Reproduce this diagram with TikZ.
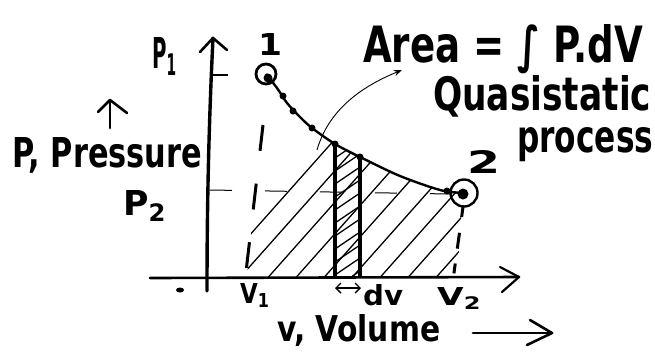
\documentclass[tikz,border=0pt]{standalone}
\usepackage{fontspec}
\setmainfont{DejaVu Sans}
\usepackage{graphicx}
\usetikzlibrary{arrows.meta}
\newcommand{\fitw}[3]{\resizebox{#1pt}{#2pt}{\bfseries #3}}
\begin{document}
\begin{tikzpicture}[x=1pt,y=-1pt,
  lbl/.style={inner sep=0pt, anchor=base west},
  axisline/.style={line width=3.4pt, line cap=round},
  headline/.style={line width=2.6pt, line cap=round, line join=round},
  curveline/.style={line width=2.4pt},
  hatch/.style={line width=1.3pt},
  stripline/.style={line width=3.6pt},
  ptdot/.style={fill=black},
  vguide/.style={line width=3pt, dash pattern=on 26pt off 33pt},
  vguidetwo/.style={line width=3pt, dash pattern=on 10pt off 16pt on 16pt off 15pt},
  hguide/.style={line width=1pt, dash pattern=on 22pt off 33pt},
  thinarrow/.style={line width=0.9pt, -{Stealth[length=8pt,width=6pt]}}
]
\useasboundingbox (0,0) rectangle (655,354);

% hatching under the curve
\begin{scope}
  \clip (247,277) -- plot[smooth] coordinates {(266,74) (277,88) (287,103) (300,117) (312,128) (335,144) (360,157) (400,176) (440,190) (463,193)} -- (457,277) -- cycle;
  \foreach \x in {192,220,...,480} \draw[hatch] (\x,300) -- ++(200,-225);
\end{scope}
% denser hatching in the strip
\begin{scope}
  \clip (335,277) -- (335,144) -- (360,157) -- (360,277) -- cycle;
  \foreach \y in {158,171,...,300} \draw[hatch] (335,\y) -- (360,\y-17);
\end{scope}

% guide lines
\draw[vguide] (263,125) -- (246,272);
\draw[vguidetwo] (463,207) -- (453,280);
\draw[hguide] (210,190) -- (450,194);
\draw[line width=1.2pt] (213,75) -- (228,75);

% axes
\coordinate (yfoot) at (207,291);
\coordinate (ytip) at (213,38);
\coordinate (xfoot) at (150,278);
\coordinate (xtip) at (519,277);
\draw[axisline] (yfoot) .. controls (207,200) and (209,120) .. (ytip);
\draw[headline] (200,52) -- (ytip) -- (227,50);
\draw[axisline, line width=2.6pt] (xfoot) -- (xtip);
\draw[headline, line width=2.2pt] (500,267) -- (xtip) -- (502,292);
\fill (180,290) ellipse (4pt and 2.5pt);

% process curve
\draw[curveline] plot[smooth] coordinates {(266,74) (277,88) (287,103) (300,117) (312,128) (335,144) (360,157) (400,176) (440,190) (463,193)};
\foreach \p in {(283,96),(293,111),(312,128),(335,144),(360,157),(447,191)}
  \fill[ptdot] \p circle (3.5pt);

% state points
\node[circle, draw, line width=2.8pt, minimum size=20pt, inner sep=0pt] (s1) at (266,74) {};
\fill (268,78) circle (4.5pt);
\node[circle, draw, line width=2.4pt, minimum size=27pt, inner sep=0pt] (s2) at (464,193) {};
\fill (463,194) circle (5.5pt);

% strip dV
\draw[stripline] (335,144) -- (335,277);
\draw[stripline] (360,157) -- (360,277);
\coordinate (dvl) at (335,288);
\coordinate (dvr) at (361,288);
\draw[line width=1.4pt, {Straight Barb[length=5pt,width=10pt]}-{Straight Barb[length=5pt,width=10pt]}] (dvl) -- (dvr);

% labels
\node[lbl] (lone) at (258,55) {\fitw{24}{22}{1}};
\node[lbl] (ltwo) at (467,173) {\fitw{33}{23}{2}};
\node[lbl] (pone) at (152,68) {\fitw{25}{31}{P\textsubscript{1}}};
\node[lbl] (ptwo) at (123,215) {\fitw{44}{25}{P\textsubscript{2}}};
\node[lbl] (press) at (12,167) {\fitw{190}{30}{P, Pressure}};
\coordinate (upfoot) at (110,128);
\coordinate (uptip) at (110,100);
\draw[headline, line width=2.8pt] (upfoot) -- (uptip);
\draw[headline] (98,112) -- (uptip) -- (127,113);
\node[lbl] (vone) at (240,303) {\fitw{30}{20}{V\textsubscript{1}}};
\node[lbl] (vtwo) at (437,305) {\fitw{45}{18}{V\textsubscript{2}}};
\node[lbl] (dvlab) at (363,305) {\fitw{40}{21}{dv}};
\node[lbl] (vol) at (277,341) {\fitw{163}{27}{v, Volume}};
\coordinate (vaf) at (473,333);
\coordinate (vat) at (552,333);
\draw[headline, line width=2.8pt] (vaf) -- (vat);
\draw[headline] (530,320) -- (vat) -- (527,345);

\node[lbl] (area) at (363,62) {\fitw{280}{38}{Area = ∫ P.dV}};
\node[lbl] (quasi) at (433,110) {\fitw{218}{35}{Quasistatic}};
\node[lbl] (proc) at (517,152) {\fitw{136}{25}{process}};

\coordinate (areafrom) at (317,150);
\coordinate (areatip) at (402,70);
\draw[thinarrow] (areafrom) .. controls (328,112) and (358,88) .. (areatip);
\end{tikzpicture}
\end{document}
